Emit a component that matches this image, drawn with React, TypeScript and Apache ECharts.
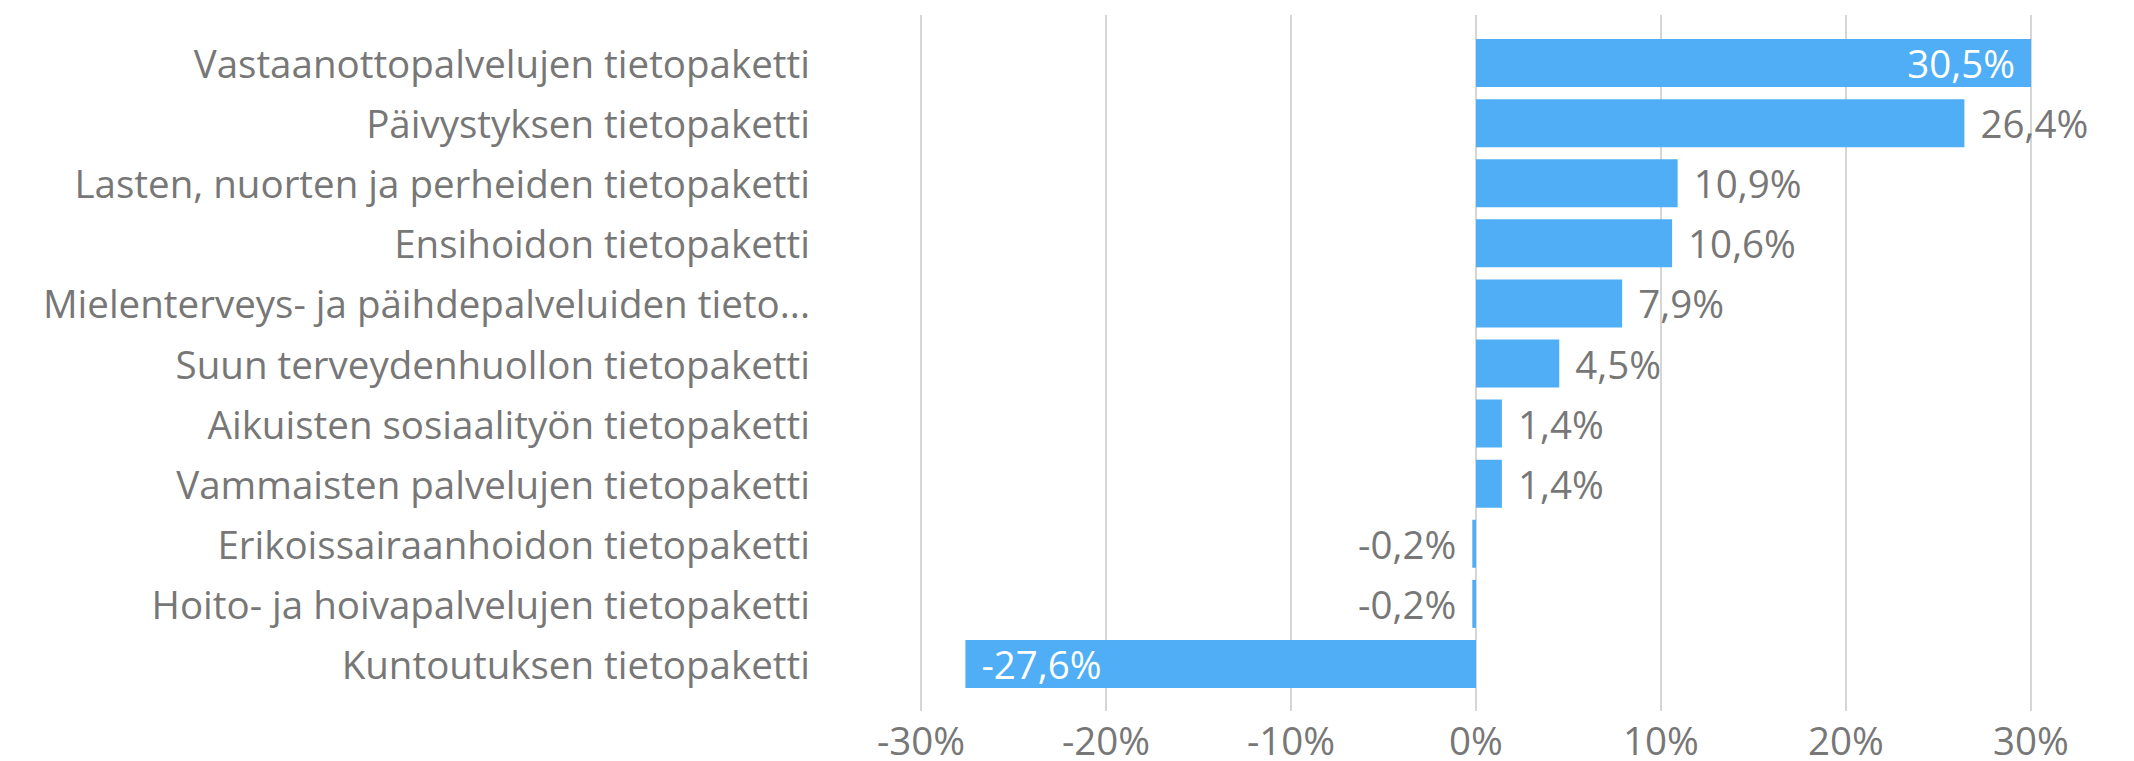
import React, { useEffect, useRef } from "react";
import * as echarts from "echarts";

const categories: string[] = [
  "Vastaanottopalvelujen tietopaketti",
  "Päivystyksen tietopaketti",
  "Lasten, nuorten ja perheiden tietopaketti",
  "Ensihoidon tietopaketti",
  "Mielenterveys- ja päihdepalveluiden tieto...",
  "Suun terveydenhuollon tietopaketti",
  "Aikuisten sosiaalityön tietopaketti",
  "Vammaisten palvelujen tietopaketti",
  "Erikoissairaanhoidon tietopaketti",
  "Hoito- ja hoivapalvelujen tietopaketti",
  "Kuntoutuksen tietopaketti",
];

const values: number[] = [30.5, 26.4, 10.9, 10.6, 7.9, 4.5, 1.4, 1.4, -0.2, -0.2, -27.6];

const axisMin = -30;
const axisMax = 30;
const axisInterval = 10;

const FONT = "'Open Sans', 'Noto Sans', sans-serif";
const FS = 38.5;
const GRAY = "#777777";
const BAR = "#4FAEF5";

const fmt = (v: number) => v.toFixed(1).replace(".", ",") + "%";

export default function App() {
  const ref = useRef<HTMLDivElement>(null);
  useEffect(() => {
    if (!ref.current) return;
    const chart = echarts.init(ref.current, undefined, { renderer: "svg" });
    const data = values.map((v) => {
      const inside = Math.abs(v) >= 27;
      return {
        value: v,
        label: {
          show: true,
          position: inside ? (v >= 0 ? "insideRight" : "insideLeft") : v >= 0 ? "right" : "left",
          distance: 16,
          color: inside ? "#ffffff" : GRAY,
          fontSize: FS,
          fontFamily: FONT,
          formatter: () => fmt(v),
        },
      };
    });
    chart.setOption({
      animation: false,
      grid: [
        { left: 921, right: 103, top: 33, height: 661 },
        { left: 921, right: 103, top: 15, height: 696 },
      ],
      xAxis: [
        { type: "value", gridIndex: 0, min: axisMin, max: axisMax, interval: axisInterval, show: false },
        {
          type: "value",
          gridIndex: 1,
          min: axisMin,
          max: axisMax,
          interval: axisInterval,
          axisLine: { show: false },
          axisTick: { show: false },
          splitLine: { show: true, lineStyle: { color: "#C8C8C8", width: 1.5 } },
          axisLabel: {
            margin: 12,
            color: GRAY,
            fontSize: FS,
            lineHeight: 34,
            fontFamily: FONT,
            formatter: (v: number) => v + "%",
          },
        },
      ],
      yAxis: [
        {
          type: "category",
          gridIndex: 0,
          data: categories,
          inverse: true,
          axisLine: { show: false, onZero: false },
          axisTick: { show: false },
          splitLine: { show: false },
          axisLabel: { margin: 111, color: GRAY, fontSize: FS, fontFamily: FONT },
        },
        { type: "category", gridIndex: 1, data: categories, show: false },
      ],
      series: [
        {
          type: "bar",
          xAxisIndex: 0,
          yAxisIndex: 0,
          data,
          barWidth: 48,
          itemStyle: { color: BAR },
          z: 3,
        },
      ],
    });
    return () => chart.dispose();
  }, []);
  return (
    <div
      ref={ref}
      style={{ position: "absolute", left: 0, top: 0, width: 2134, height: 761, background: "#fff" }}
    />
  );
}
